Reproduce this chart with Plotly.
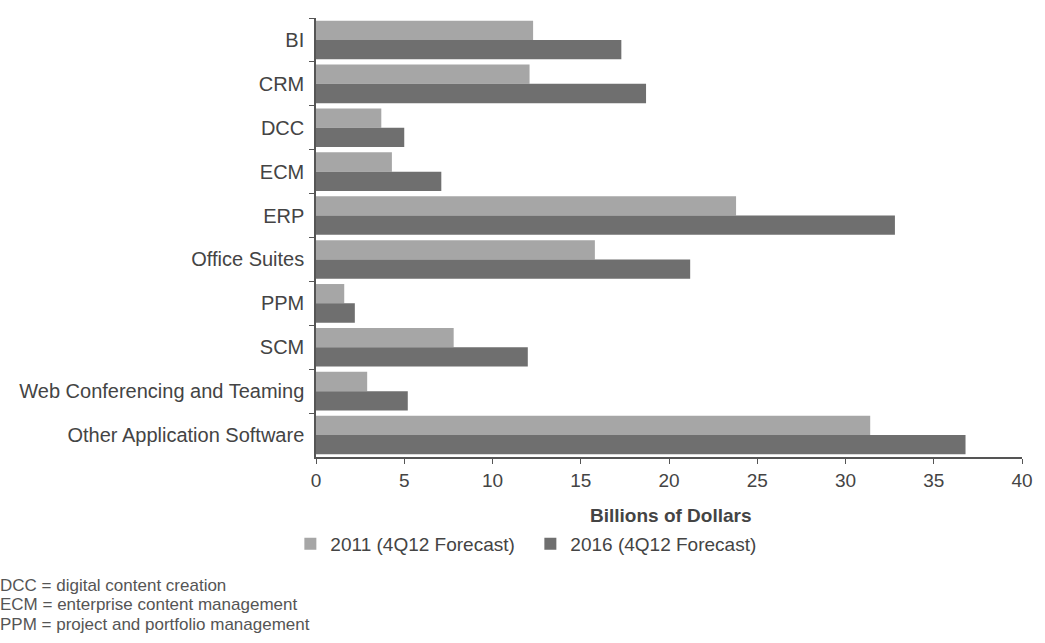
import plotly.graph_objects as go

# Application software segments (top to bottom as listed)
categories = [
    "BI", "CRM", "DCC", "ECM", "ERP", "Office Suites", "PPM", "SCM",
    "Web Conferencing and Teaming", "Other Application Software",
]
rev_2011 = [12.3, 12.1, 3.7, 4.3, 23.8, 15.8, 1.6, 7.8, 2.9, 31.4]
rev_2016 = [17.3, 18.7, 5.0, 7.1, 32.8, 21.2, 2.2, 12.0, 5.2, 36.8]
series_names = ["2011 (4Q12 Forecast)", "2016 (4Q12 Forecast)"]
x_ticks = [0, 5, 10, 15, 20, 25, 30, 35, 40]
footnotes = [
    "DCC = digital content creation",
    "ECM = enterprise content management",
    "PPM = project and portfolio management",
]

FONT = "Liberation Sans, Arial, sans-serif"
TEXT = "#444444"

# plot area geometry in pixels
L, R, T, B = 316, 13, 18, 186
W, H = 1045, 643
PW, PH = W - L - R, H - T - B


def px_to_paper_x(px):
    return (px - L) / PW


def px_to_paper_y(py):
    return (H - B - py) / PH


fig = go.Figure()
fig.add_trace(go.Bar(
    y=categories, x=rev_2011, orientation="h", name=series_names[0],
    marker=dict(color="#a6a6a6", line=dict(width=0)),
))
fig.add_trace(go.Bar(
    y=categories, x=rev_2016, orientation="h", name=series_names[1],
    marker=dict(color="#6f6f6f", line=dict(width=0)),
))

fig.update_layout(
    width=W, height=H,
    margin=dict(l=L, r=R, t=T, b=B),
    paper_bgcolor="white", plot_bgcolor="white",
    barmode="group", bargap=0.12, bargroupgap=0.0,
    font=dict(family=FONT, color=TEXT),
    showlegend=True,
    legend=dict(
        orientation="h", x=px_to_paper_x(290), xanchor="left",
        y=px_to_paper_y(544), yanchor="middle",
        font=dict(size=19, color=TEXT), itemwidth=30,
        entrywidth=195, entrywidthmode="pixels",
        traceorder="normal", bgcolor="rgba(0,0,0,0)",
    ),
)

fig.update_yaxes(
    type="category", autorange="reversed",
    categoryorder="array", categoryarray=categories,
    showline=True, linecolor="#555555", linewidth=1.5,
    ticks="outside", tickson="boundaries", ticklen=5, tickcolor="#555555",
    tickfont=dict(size=20, color=TEXT), ticklabelstandoff=6,
    showgrid=False, zeroline=False,
)
fig.update_xaxes(
    range=[0, 40], tickvals=x_ticks, ticktext=[str(v) for v in x_ticks],
    showline=True, linecolor="#555555", linewidth=1.5,
    ticks="outside", ticklen=5, tickcolor="#555555",
    tickfont=dict(size=19, color=TEXT),
    showgrid=False, zeroline=False,
)

# axis title placed as an annotation for precise vertical position
fig.add_annotation(
    text="<b>Billions of Dollars</b>", xref="paper", yref="paper",
    x=px_to_paper_x(676), xanchor="center", y=px_to_paper_y(515), yanchor="middle",
    showarrow=False, font=dict(size=19, color=TEXT),
)

for i, note in enumerate(footnotes):
    fig.add_annotation(
        text=note, xref="paper", yref="paper",
        x=px_to_paper_x(-6), xanchor="left",
        y=px_to_paper_y(585 + i * 19.5), yanchor="middle",
        showarrow=False, font=dict(size=17, color="#555555"),
    )

fig.write_html("out.html")
